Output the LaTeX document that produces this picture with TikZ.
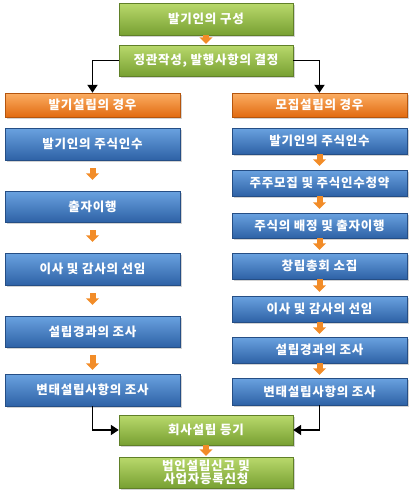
\documentclass[tikz,border=0pt]{standalone}
\usepackage{fontspec}
\setmainfont{Noto Sans CJK KR}
\newfontfamily\boxfont[LetterSpace=6]{Noto Sans CJK KR}
\usetikzlibrary{shadows,arrows.meta}
\definecolor{bluetop}{HTML}{6AA2E0}
\definecolor{bluebot}{HTML}{2E62A6}
\definecolor{greentop}{HTML}{B9D96C}
\definecolor{greenbot}{HTML}{78A032}
\definecolor{orangetop}{HTML}{FBAE63}
\definecolor{orangebot}{HTML}{E26A10}
\definecolor{arrowor}{HTML}{F28C28}
\tikzset{
  boxbase/.style={minimum width=175pt, inner sep=2pt, text=white,
    font=\boxfont\bfseries\fontsize{12.5}{14}\selectfont, align=center,
    drop shadow={shadow xshift=1.5pt, shadow yshift=-1.5pt, opacity=0.35}},
  bluebox/.style={boxbase, top color=bluetop, bottom color=bluebot, draw=bluebot!80!black, line width=0.4pt},
  greenbox/.style={boxbase, minimum width=174pt, top color=greentop, bottom color=greenbot, draw=greenbot!80!black, line width=0.4pt},
  orangebox/.style={boxbase, minimum height=24pt, top color=orangetop, bottom color=orangebot, draw=orangebot!80!black, line width=0.4pt},
  oarrow/.style={draw=arrowor, line width=6pt, -{Triangle[width=13pt,length=6.5pt]}},
  karrow/.style={draw=black, line width=1.8pt, -{Triangle[width=10pt,length=8pt]}}
}
\begin{document}
\begin{tikzpicture}[x=1pt,y=-1pt]
\useasboundingbox (0,0) rectangle (412,498);
% green top
\node[greenbox, minimum height=32pt] (g1) at (206,19) {발기인의 구성};
\node[greenbox, minimum height=31pt] (g2) at (206,60.5) {정관작성, 발행사항의 결정};
% orange headers
\node[orangebox] (ol) at (92.5,105) {발기설립의 경우};
\node[orangebox] (or) at (319.5,105) {모집설립의 경우};
% left column
\node[bluebox, minimum height=32pt] (l1) at (92.5,144) {발기인의 주식인수};
\node[bluebox, minimum height=31pt] (l2) at (92.5,206.5) {출자이행};
\node[bluebox, minimum height=32pt] (l3) at (92.5,269) {이사 및 감사의 선임};
\node[bluebox, minimum height=31pt] (l4) at (92.5,331.5) {설립경과의 조사};
\node[bluebox, minimum height=32pt] (l5) at (92.5,390) {변태설립사항의 조사};
% right column
\node[bluebox, minimum height=26pt] (r1) at (319.5,141) {발기인의 주식인수};
\node[bluebox, minimum height=26pt] (r2) at (319.5,183) {주주모집 및 주식인수청약};
\node[bluebox, minimum height=25pt] (r3) at (319.5,225.5) {주식의 배정 및 출자이행};
\node[bluebox, minimum height=26pt] (r4) at (319.5,266) {창립총회 소집};
\node[bluebox, minimum height=26pt] (r5) at (319.5,309) {이사 및 감사의 선임};
\node[bluebox, minimum height=26pt] (r6) at (319.5,350) {설립경과의 조사};
\node[bluebox, minimum height=27pt] (r7) at (319.5,391.5) {변태설립사항의 조사};
% green bottom
\node[greenbox, minimum height=30pt] (g3) at (206,430) {회사설립 등기};
\node[greenbox, minimum height=31pt, font=\boxfont\bfseries\fontsize{12.5}{12.5}\selectfont] (g4) at (206,472.5) {법인설립신고 및\\사업자등록신청};
% orange arrows
\draw[oarrow, shorten >=1pt] (g1) -- (g2);
\draw[oarrow, shorten <=8pt, shorten >=11pt] (l1) -- (l2);
\draw[oarrow, shorten <=8pt, shorten >=11pt] (l2) -- (l3);
\draw[oarrow, shorten <=8pt, shorten >=11pt] (l3) -- (l4);
\draw[oarrow, shorten <=8pt, shorten >=4pt] (l4) -- (l5);
\draw[oarrow, shorten >=4pt] (r1) -- (r2);
\draw[oarrow, shorten >=4pt] (r2) -- (r3);
\draw[oarrow, shorten >=3pt] (r3) -- (r4);
\draw[oarrow, shorten >=4pt] (r4) -- (r5);
\draw[oarrow, shorten >=3pt] (r5) -- (r6);
\draw[oarrow, shorten >=3pt] (r6) -- (r7);
\draw[oarrow, shorten >=1pt] (g3) -- (g4);
% black connectors
\draw[karrow] (g2.west) -| (ol.north);
\draw[karrow] (g2.east) -| (or.north);
\draw[karrow] (l5.south) |- (g3.west);
\draw[karrow] (r7.south) |- (g3.east);
\end{tikzpicture}
\end{document}
